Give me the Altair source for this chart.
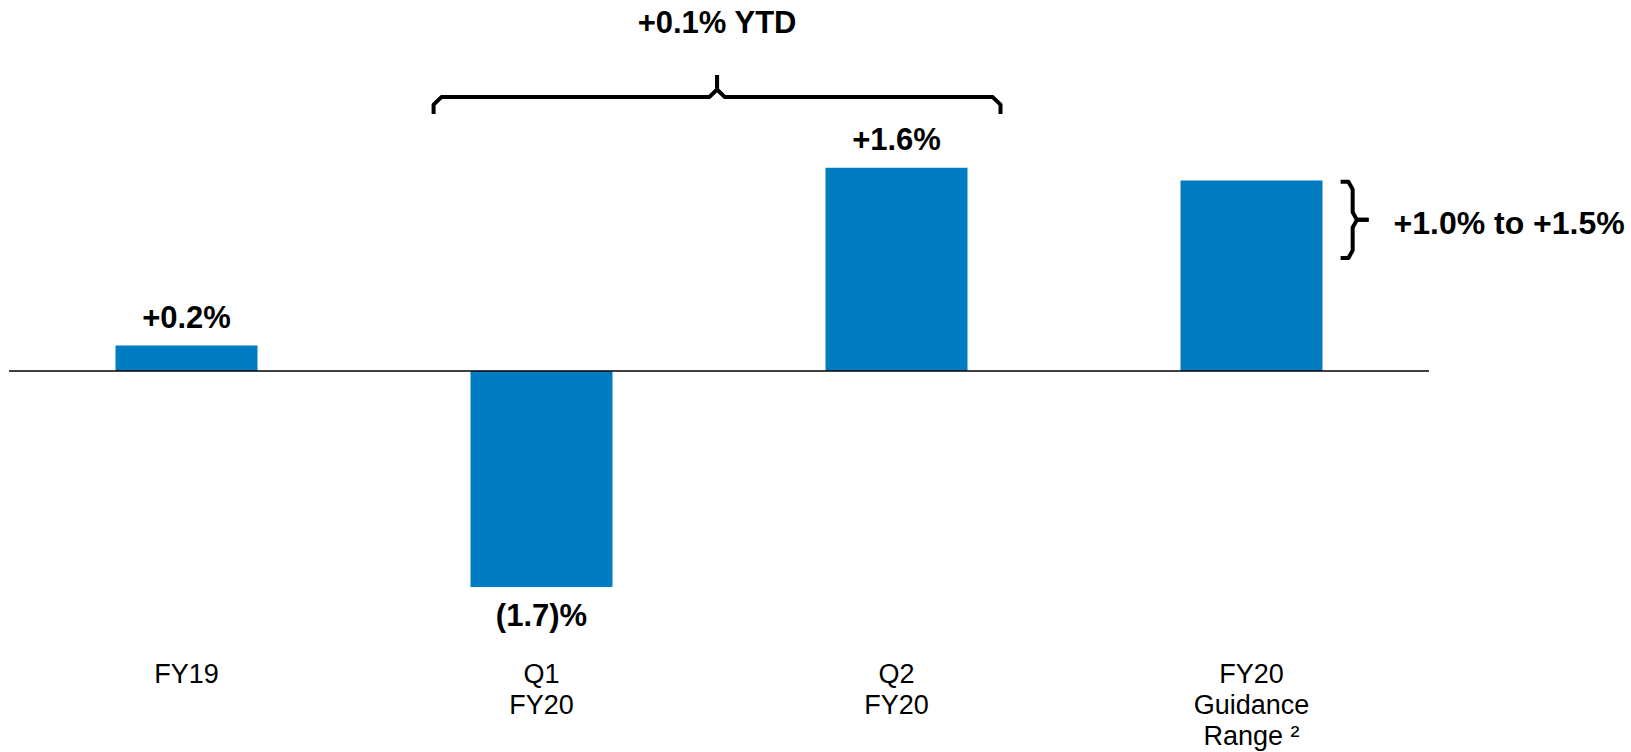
import altair as alt
import pandas as pd

# ---- data ----
categories = ["FY19", "Q1\nFY20", "Q2\nFY20", "FY20\nGuidance\nRange \u00b2"]
positions = [0, 1, 2, 3]
values = [0.2, -1.7, 1.6, 1.5]
value_labels = ["+0.2%", "(1.7)%", "+1.6%", ""]

ytd_label = "+0.1% YTD"
guidance_label = "+1.0% to +1.5%"
guidance_range = [0.89, 1.49]   # extent of the right-hand brace (in % units)

BLUE = "#007CC3"
FONT = "Liberation Sans"
HALF = 0.2  # half bar width in category units

bars_df = pd.DataFrame({
    "pos": positions,
    "x0": [p - HALF for p in positions],
    "x1": [p + HALF for p in positions],
    "value": values,
    "label": value_labels,
    "cat": categories,
})

xs = alt.Scale(domain=[-0.5, 3.5], nice=False, zero=False)
ys = alt.Scale(domain=[-3.0, 2.9213], nice=False, zero=False)
X = lambda f: alt.X(f, type="quantitative", scale=xs, axis=None)
Y = lambda f: alt.Y(f, type="quantitative", scale=ys, axis=None)

bars = alt.Chart(bars_df).mark_bar(color=BLUE).encode(
    x=X("x0"), x2="x1", y=Y("value"), y2=alt.datum(0)
)

zero_line = alt.Chart(pd.DataFrame({"a": [-0.5], "b": [3.5], "z": [0]})).mark_rule(
    color="black", strokeWidth=1.5
).encode(x=X("a"), x2="b", y=Y("z"))

pos_labels = alt.Chart(bars_df[bars_df["value"] > 0]).mark_text(
    font=FONT, fontSize=31, fontWeight="bold", color="black",
    baseline="alphabetic", align="center", dy=-18
).encode(x=X("pos"), y=Y("value"), text="label")

neg_labels = alt.Chart(bars_df[bars_df["value"] < 0]).mark_text(
    font=FONT, fontSize=31, fontWeight="bold", color="black",
    baseline="alphabetic", align="center", dy=39
).encode(x=X("pos"), y=Y("value"), text="label")

cat_labels = alt.Chart(bars_df).mark_text(
    font=FONT, fontSize=27, color="black", baseline="alphabetic",
    align="center", lineBreak="\n", lineHeight=31
).encode(x=X("pos"), y=alt.Y(datum=-2.457, scale=ys, axis=None), text="cat")

# ---- top brace spanning Q1 and Q2 ----
bx0 = 1 - HALF - 0.104
bx1 = 2 + HALF + 0.093
bxt = (bx0 + bx1) / 2
yh, yb, yt = 2.157, 2.024, 2.331
dx, dy = 0.022, 0.06
brace_pts = []
for half, xe, sgn in (("L", bx0, 1), ("R", bx1, -1)):
    pts = [(xe, yb), (xe, yh - dy), (xe + sgn * dx, yh), (bxt - sgn * dx, yh),
           (bxt, yh + dy), (bxt, yt)]
    for i, (px, py) in enumerate(pts):
        brace_pts.append({"x": px, "y": py, "g": "top" + half, "o": i})

# ---- right brace for guidance range ----
xe, xv, xtip = 3.251, 3.285, 3.33
ylo, yhi = guidance_range
ym = (ylo + yhi) / 2
for half, yend, sgn in (("T", yhi, -1), ("B", ylo, 1)):
    pts = [(xe, yend), (xv - 0.012, yend), (xv, yend + sgn * 0.06),
           (xv, ym - sgn * 0.06), (xv + 0.012, ym), (xtip, ym)]
    for i, (px, py) in enumerate(pts):
        brace_pts.append({"x": px, "y": py, "g": "right" + half, "o": i})

braces = alt.Chart(pd.DataFrame(brace_pts)).mark_line(
    color="black", strokeWidth=4, strokeCap="butt", strokeJoin="round"
).encode(x=X("x"), y=Y("y"), detail="g:N", order="o:Q")

ytd_text = alt.Chart(pd.DataFrame({"x": [bxt], "y": [2.661], "t": [ytd_label]})).mark_text(
    font=FONT, fontSize=31, fontWeight="bold", color="black",
    baseline="alphabetic", align="center"
).encode(x=X("x"), y=Y("y"), text="t")

guid_text = alt.Chart(pd.DataFrame({"x": [3.4], "y": [1.079], "t": [guidance_label]})).mark_text(
    font=FONT, fontSize=32, fontWeight="bold", color="black",
    baseline="alphabetic", align="left"
).encode(x=X("x"), y=Y("y"), text="t")

chart = alt.layer(
    bars, zero_line, pos_labels, neg_labels, cat_labels, braces, ytd_text, guid_text
).properties(
    width=1420, height=752,
    autosize=alt.AutoSizeParams(type="none"),
    padding={"left": 9, "right": 202, "top": 0, "bottom": 0},
    background="white",
).configure_view(stroke=None)

chart.save("out.html", embed_options={"renderer": "svg", "actions": False})
